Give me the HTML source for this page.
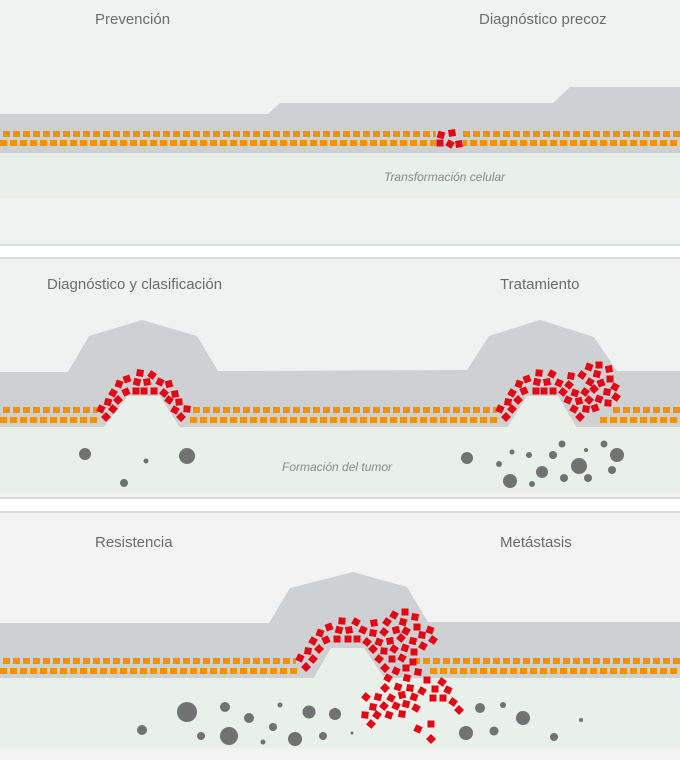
<!DOCTYPE html>
<html><head><meta charset="utf-8"><style>
html,body{margin:0;padding:0;background:#fff}
svg{display:block}
.t{font-family:"Liberation Sans",sans-serif;font-size:15px;fill:#6b6b6b}
.i{font-family:"Liberation Sans",sans-serif;font-size:12px;font-style:italic;fill:#8a8a8a}
</style></head><body>
<svg width="680" height="760" viewBox="0 0 680 760" xmlns="http://www.w3.org/2000/svg">
<defs>
<pattern id="o1" x="3" y="0" width="10" height="760" patternUnits="userSpaceOnUse"><rect x="0" y="0" width="7" height="760" fill="#f39200"/></pattern>
<pattern id="o2" x="0" y="0" width="10" height="760" patternUnits="userSpaceOnUse"><rect x="0" y="0" width="7" height="760" fill="#f39200"/></pattern>
<rect id="r" x="-3.5" y="-3.5" width="7" height="7" fill="#e30613"/>
</defs>
<rect width="680" height="760" fill="#fff"/>
<!-- Panel 1 -->
<rect x="0" y="0" width="680" height="244" fill="#f0f2f1"/>
<rect x="0" y="244" width="680" height="2" fill="#dcdcdc"/>
<rect x="0" y="257" width="680" height="2" fill="#dcdcdc"/>
<polygon points="0,114 268,114 280,103 553,103 570,87 680,87 680,153 0,153" fill="#cfd0d2"/>
<rect x="0" y="153" width="680" height="45" fill="#e9f0ea"/>
<rect x="0" y="131" width="436" height="6" fill="url(#o1)"/>
<rect x="463" y="131" width="217" height="6" fill="url(#o1)"/>
<rect x="0" y="140" width="436" height="6" fill="url(#o2)"/>
<rect x="463" y="140" width="217" height="6" fill="url(#o2)"/>
<use href="#r" transform="translate(441,135) rotate(15)"/>
<use href="#r" transform="translate(452,133) rotate(-10)"/>
<use href="#r" transform="translate(440,143)"/>
<use href="#r" transform="translate(450,144) rotate(30)"/>
<use href="#r" transform="translate(459,144) rotate(-8)"/>
<text class="t" x="95" y="24">Prevención</text>
<text class="t" x="479" y="24">Diagnóstico precoz</text>
<text class="i" x="384" y="181">Transformación celular</text>

<!-- Panel 2 -->
<rect x="0" y="259" width="680" height="238" fill="#f0f2f1"/>
<rect x="0" y="497" width="680" height="2" fill="#dcdcdc"/>
<rect x="0" y="511" width="680" height="2" fill="#dcdcdc"/>
<polygon points="0,372 68,372 89,336 142,320 197,336 218,371 467,370 489,336 540,320 594,337 617,371 680,371 680,427 0,427" fill="#cfd0d2"/>
<rect x="0" y="427" width="680" height="66" fill="#e9f0ea"/>
<polygon points="103,428 128,396 160,396 180,428" fill="#e9f0ea"/>
<polygon points="507,428 527,396 558,396 577,428" fill="#e9f0ea"/>
<rect x="0" y="407" width="98" height="6" fill="url(#o1)"/>
<rect x="193" y="407" width="304" height="6" fill="url(#o1)"/>
<rect x="612" y="407" width="68" height="6" fill="url(#o1)"/>
<rect x="0" y="417" width="100" height="6" fill="url(#o2)"/>
<rect x="190" y="417" width="307" height="6" fill="url(#o2)"/>
<rect x="597" y="417" width="83" height="6" fill="url(#o2)"/>
<g>
<use href="#r" transform="translate(140,373) rotate(10)"/><use href="#r" transform="translate(152,375) rotate(35)"/><use href="#r" transform="translate(127,379) rotate(-20)"/><use href="#r" transform="translate(137,382) rotate(15)"/><use href="#r" transform="translate(147,382) rotate(-10)"/><use href="#r" transform="translate(160,382) rotate(25)"/><use href="#r" transform="translate(169,384) rotate(-15)"/><use href="#r" transform="translate(119,384) rotate(20)"/><use href="#r" transform="translate(136,391)"/><use href="#r" transform="translate(144,391)"/><use href="#r" transform="translate(154,391)"/><use href="#r" transform="translate(113,393) rotate(30)"/><use href="#r" transform="translate(126,392) rotate(-25)"/><use href="#r" transform="translate(164,393) rotate(40)"/><use href="#r" transform="translate(175,394) rotate(-10)"/><use href="#r" transform="translate(108,402) rotate(15)"/><use href="#r" transform="translate(118,400) rotate(45)"/><use href="#r" transform="translate(169,400) rotate(35)"/><use href="#r" transform="translate(179,402) rotate(-5)"/><use href="#r" transform="translate(101,409) rotate(25)"/><use href="#r" transform="translate(113,409) rotate(40)"/><use href="#r" transform="translate(175,410) rotate(30)"/><use href="#r" transform="translate(187,409) rotate(5)"/><use href="#r" transform="translate(106,417) rotate(45)"/><use href="#r" transform="translate(181,417) rotate(45)"/>
</g>
<g>
<use href="#r" transform="translate(539,373) rotate(5)"/><use href="#r" transform="translate(552,374) rotate(30)"/><use href="#r" transform="translate(527,379) rotate(-20)"/><use href="#r" transform="translate(537,382) rotate(15)"/><use href="#r" transform="translate(547,382) rotate(-10)"/><use href="#r" transform="translate(559,383) rotate(25)"/><use href="#r" transform="translate(519,384) rotate(20)"/><use href="#r" transform="translate(536,391)"/><use href="#r" transform="translate(544,391)"/><use href="#r" transform="translate(553,391)"/><use href="#r" transform="translate(512,393) rotate(30)"/><use href="#r" transform="translate(524,391) rotate(-25)"/><use href="#r" transform="translate(563,392) rotate(40)"/><use href="#r" transform="translate(508,402) rotate(10)"/><use href="#r" transform="translate(518,400) rotate(45)"/><use href="#r" transform="translate(500,409) rotate(25)"/><use href="#r" transform="translate(512,409) rotate(40)"/><use href="#r" transform="translate(506,417) rotate(45)"/>
<use href="#r" transform="translate(571,376) rotate(10)"/><use href="#r" transform="translate(582,375) rotate(35)"/><use href="#r" transform="translate(589,367) rotate(20)"/><use href="#r" transform="translate(599,365)"/><use href="#r" transform="translate(609,369) rotate(-10)"/><use href="#r" transform="translate(597,374) rotate(15)"/><use href="#r" transform="translate(590,382) rotate(30)"/><use href="#r" transform="translate(601,383) rotate(-20)"/><use href="#r" transform="translate(610,379)"/><use href="#r" transform="translate(569,385) rotate(40)"/><use href="#r" transform="translate(575,393) rotate(20)"/><use href="#r" transform="translate(585,392) rotate(35)"/><use href="#r" transform="translate(594,389) rotate(45)"/><use href="#r" transform="translate(607,392) rotate(10)"/><use href="#r" transform="translate(615,387) rotate(30)"/><use href="#r" transform="translate(568,400) rotate(25)"/><use href="#r" transform="translate(579,401) rotate(-15)"/><use href="#r" transform="translate(589,400) rotate(40)"/><use href="#r" transform="translate(599,399) rotate(20)"/><use href="#r" transform="translate(608,403) rotate(5)"/><use href="#r" transform="translate(616,397) rotate(35)"/><use href="#r" transform="translate(574,409) rotate(30)"/><use href="#r" transform="translate(586,409) rotate(10)"/><use href="#r" transform="translate(595,408) rotate(-20)"/><use href="#r" transform="translate(580,417) rotate(45)"/>
</g>
<g fill="#727272">
<circle cx="85" cy="454" r="6"/><circle cx="146" cy="461" r="2.5"/><circle cx="187" cy="456" r="8"/><circle cx="124" cy="483" r="4"/>
<circle cx="467" cy="458" r="6"/><circle cx="512" cy="452" r="2.5"/><circle cx="529" cy="455" r="3"/><circle cx="553" cy="455" r="4"/><circle cx="562" cy="444" r="3.5"/><circle cx="586" cy="450" r="2"/><circle cx="604" cy="444" r="3.5"/><circle cx="617" cy="455" r="7"/><circle cx="499" cy="464" r="3"/><circle cx="542" cy="472" r="6"/><circle cx="579" cy="466" r="8"/><circle cx="612" cy="470" r="4"/><circle cx="510" cy="481" r="7"/><circle cx="532" cy="484" r="3"/><circle cx="564" cy="478" r="4"/><circle cx="588" cy="478" r="4"/>
</g>
<text class="t" x="47" y="289">Diagnóstico y clasificación</text>
<text class="t" x="500" y="289">Tratamiento</text>
<text class="i" x="282" y="471">Formación del tumor</text>

<!-- Panel 3 -->
<rect x="0" y="513" width="680" height="247" fill="#f3f3f3"/>
<polygon points="0,623 269,623 290,588 353,572 407,587 428,622 680,622 680,678 0,678" fill="#cfd0d2"/>
<rect x="0" y="678" width="680" height="70" fill="#e9f0ea"/>
<polygon points="313,679 331,648 364,648 385,679" fill="#e9f0ea"/>
<rect x="0" y="658" width="296" height="6" fill="url(#o1)"/>
<rect x="415" y="658" width="265" height="6" fill="url(#o1)"/>
<rect x="0" y="668" width="300" height="6" fill="url(#o2)"/>
<rect x="430" y="668" width="250" height="6" fill="url(#o2)"/>
<g>
<use href="#r" transform="translate(342,621) rotate(5)"/><use href="#r" transform="translate(356,622) rotate(30)"/><use href="#r" transform="translate(329,627) rotate(-20)"/><use href="#r" transform="translate(339,630) rotate(15)"/><use href="#r" transform="translate(349,630) rotate(-10)"/><use href="#r" transform="translate(363,630) rotate(25)"/><use href="#r" transform="translate(320,633) rotate(20)"/><use href="#r" transform="translate(337,639)"/><use href="#r" transform="translate(348,639)"/><use href="#r" transform="translate(357,639)"/><use href="#r" transform="translate(313,641) rotate(30)"/><use href="#r" transform="translate(326,640) rotate(-25)"/><use href="#r" transform="translate(367,642) rotate(40)"/><use href="#r" transform="translate(308,651) rotate(10)"/><use href="#r" transform="translate(319,649) rotate(45)"/><use href="#r" transform="translate(300,658) rotate(25)"/><use href="#r" transform="translate(313,659) rotate(40)"/><use href="#r" transform="translate(306,667) rotate(45)"/>
<use href="#r" transform="translate(405,612)"/><use href="#r" transform="translate(394,615) rotate(30)"/><use href="#r" transform="translate(415,617) rotate(10)"/><use href="#r" transform="translate(374,623) rotate(-10)"/><use href="#r" transform="translate(387,622) rotate(35)"/><use href="#r" transform="translate(403,622) rotate(15)"/><use href="#r" transform="translate(417,627)"/><use href="#r" transform="translate(430,630) rotate(20)"/><use href="#r" transform="translate(373,633) rotate(10)"/><use href="#r" transform="translate(384,632) rotate(40)"/><use href="#r" transform="translate(396,630) rotate(-15)"/><use href="#r" transform="translate(406,631) rotate(30)"/><use href="#r" transform="translate(422,635) rotate(10)"/><use href="#r" transform="translate(433,640) rotate(35)"/><use href="#r" transform="translate(379,642) rotate(20)"/><use href="#r" transform="translate(390,641) rotate(-10)"/><use href="#r" transform="translate(401,638) rotate(40)"/><use href="#r" transform="translate(413,641) rotate(15)"/><use href="#r" transform="translate(423,646) rotate(30)"/><use href="#r" transform="translate(373,649) rotate(45)"/><use href="#r" transform="translate(384,651) rotate(5)"/><use href="#r" transform="translate(394,649) rotate(35)"/><use href="#r" transform="translate(405,648) rotate(20)"/><use href="#r" transform="translate(414,652)"/><use href="#r" transform="translate(379,659) rotate(40)"/><use href="#r" transform="translate(392,659)"/><use href="#r" transform="translate(402,658) rotate(30)"/><use href="#r" transform="translate(413,662)"/><use href="#r" transform="translate(385,668) rotate(45)"/><use href="#r" transform="translate(396,671) rotate(25)"/><use href="#r" transform="translate(406,668)"/><use href="#r" transform="translate(418,672) rotate(10)"/>
<use href="#r" transform="translate(388,678) rotate(30)"/><use href="#r" transform="translate(407,678) rotate(15)"/><use href="#r" transform="translate(427,680)"/><use href="#r" transform="translate(442,682) rotate(35)"/><use href="#r" transform="translate(398,687) rotate(20)"/><use href="#r" transform="translate(385,688) rotate(45)"/><use href="#r" transform="translate(410,688) rotate(10)"/><use href="#r" transform="translate(422,691) rotate(30)"/><use href="#r" transform="translate(435,689)"/><use href="#r" transform="translate(448,690) rotate(25)"/><use href="#r" transform="translate(366,697) rotate(40)"/><use href="#r" transform="translate(378,697) rotate(15)"/><use href="#r" transform="translate(391,698) rotate(30)"/><use href="#r" transform="translate(402,695) rotate(-15)"/><use href="#r" transform="translate(414,697) rotate(20)"/><use href="#r" transform="translate(433,698)"/><use href="#r" transform="translate(443,698)"/><use href="#r" transform="translate(453,702) rotate(35)"/><use href="#r" transform="translate(373,707) rotate(10)"/><use href="#r" transform="translate(384,706) rotate(40)"/><use href="#r" transform="translate(396,706) rotate(25)"/><use href="#r" transform="translate(406,704) rotate(15)"/><use href="#r" transform="translate(416,708) rotate(30)"/><use href="#r" transform="translate(459,710) rotate(45)"/><use href="#r" transform="translate(365,715) rotate(5)"/><use href="#r" transform="translate(377,715) rotate(35)"/><use href="#r" transform="translate(389,715) rotate(20)"/><use href="#r" transform="translate(402,714) rotate(10)"/><use href="#r" transform="translate(371,724) rotate(40)"/><use href="#r" transform="translate(418,729) rotate(25)"/><use href="#r" transform="translate(431,724)"/><use href="#r" transform="translate(431,739) rotate(45)"/>
</g>
<g fill="#727272">
<circle cx="142" cy="730" r="5"/><circle cx="187" cy="712" r="10"/><circle cx="225" cy="707" r="5"/><circle cx="249" cy="718" r="5"/><circle cx="280" cy="705" r="2.5"/><circle cx="201" cy="736" r="4"/><circle cx="229" cy="736" r="9"/><circle cx="263" cy="742" r="2.5"/><circle cx="273" cy="727" r="4"/><circle cx="295" cy="739" r="7"/><circle cx="309" cy="712" r="6.5"/><circle cx="335" cy="714" r="6"/><circle cx="323" cy="736" r="4"/><circle cx="352" cy="733" r="1.5"/>
<circle cx="480" cy="708" r="5"/><circle cx="503" cy="705" r="3"/><circle cx="523" cy="718" r="7"/><circle cx="466" cy="733" r="7"/><circle cx="494" cy="731" r="4.5"/><circle cx="554" cy="737" r="4"/><circle cx="581" cy="720" r="2"/>
</g>
<text class="t" x="95" y="547">Resistencia</text>
<text class="t" x="500" y="547">Metástasis</text>
</svg>
</body></html>
